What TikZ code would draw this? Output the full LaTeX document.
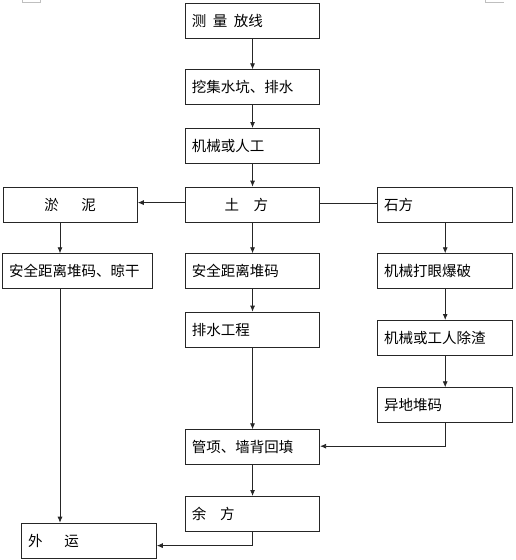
\documentclass[tikz,border=0pt]{standalone}
\usepackage{fontspec}
\newfontfamily\cjk{Noto Sans CJK SC}
\usetikzlibrary{arrows.meta}
\tikzset{
BOX/.style ={draw=black!85,line width=0.8pt,anchor=north west,minimum height=35pt,inner xsep=6.5pt,inner ysep=0pt,text width=#1,align=left,font=\cjk\fontsize{14.5}{17}\selectfont},
BOX/.default = 121.3pt,
FLOW/.style={draw=black!85,line width=0.8pt,-{Latex[length=6pt,width=5pt]}},
LINK/.style={draw=black!85,line width=0.8pt},
MARK/.style={draw=black!25,line width=0.6pt},
}
\newcommand{\gap}[1]{\hspace{#1em}}
\begin{document}
\begin{tikzpicture}[x=1pt,y=-1pt]
	\useasboundingbox (0,0) rectangle (516,560);
	%corner marks
	\path[MARK] (22,0) -- (22,2) -- (40,2) -- (40,0);
	\path[MARK] (485,0) -- (485,2) -- (504,2);
	%middle column
	\node[BOX] (survey) at (185,2.7) {测\gap{0.45}量\gap{0.45}放线};
	\node[BOX] (sump) at (185,69.3) {挖集水坑、排水};
	\node[BOX] (dig) at (185,128) {机械或人工};
	\node[BOX] (soil) at (185,186.7) {\gap{2.25}土\gap{1}方};
	\node[BOX] (soilheap) at (185,253.3) {安全距离堆码};
	\node[BOX] (drain) at (185,311.7) {排水工程};
	\node[BOX] (backfill) at (185,429.3) {管项、墙背回填};
	\node[BOX] (rest) at (185,496) {余\gap{0.95}方};
	%left column
	\node[BOX] (mud) at (2.7,186.7) {\gap{2.4}淤\gap{1.55}泥};
	\node[BOX=137pt] (mudheap) at (2.3,253.3) {安全距离堆码、晾干};
	\node[BOX=121.7pt] (haul) at (21.3,522.7) {外\gap{1.5}运};
	%right column
	\node[BOX=122pt] (rock) at (377.3,186.7) {石方};
	\node[BOX=122pt] (blast) at (377.3,253.3) {机械打眼爆破};
	\node[BOX=122pt] (clear) at (377.3,320) {机械或工人除渣};
	\node[BOX=122pt] (rockheap) at (377.3,387.3) {异地堆码};
	\coordinate (leftx) at (60,0);
	%connectors
	\foreach \a/\b in {survey/sump,sump/dig,dig/soil,soil/soilheap,soilheap/drain,drain/backfill,backfill/rest,rock/blast,blast/clear,clear/rockheap}
		\path[FLOW] (\a) -- (\b);
	\path[FLOW] ([yshift=2pt]soil.west) -- ([yshift=2pt]soil.west -| mud.east);
	\path[LINK] ([yshift=1.5pt]soil.east) -- ([yshift=1.5pt]soil.east -| rock.west);
	\path[FLOW] (leftx |- mud.south) -- (leftx |- mudheap.north);
	\path[FLOW] (leftx |- mudheap.south) -- (leftx |- haul.north);
	\path[FLOW] (rockheap.south) |- ([yshift=1pt]backfill.east);
	\path[FLOW] (rest.south) |- ([yshift=-5pt]haul.east);
\end{tikzpicture}
\end{document}
